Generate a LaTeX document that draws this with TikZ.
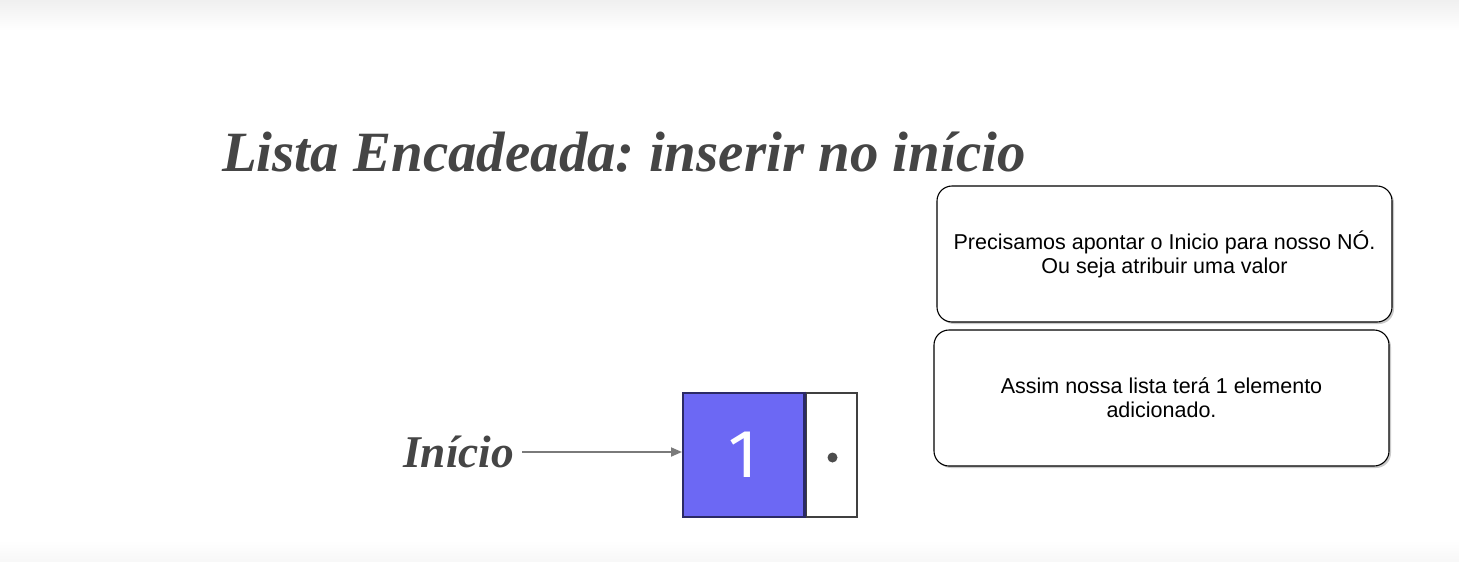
\documentclass[tikz,border=0pt]{standalone}
\usepackage{fontspec}
\setmainfont{Liberation Serif}
\newfontfamily\arialfont{Liberation Sans}
\newfontfamily\numfont{Fira Sans}
\usetikzlibrary{arrows.meta,shadows}
\frenchspacing
\definecolor{titlegray}{HTML}{454545}
\definecolor{nodeblue}{HTML}{6C68F4}
\definecolor{navy}{HTML}{2B2A66}
\definecolor{arrowgray}{HTML}{7A7A7A}
\tikzset{
  titletext/.style={text=titlegray, font=\bfseries\itshape, inner sep=0pt, anchor=west},
  notebox/.style={draw=black, line width=1.1pt, rounded corners=15pt, fill=white,
    drop shadow={shadow xshift=2pt, shadow yshift=-2pt, opacity=0.35, fill=black!60},
    minimum width=455pt, minimum height=136pt, align=center,
    font=\arialfont\fontsize{21.5}{24}\selectfont},
}
\begin{document}
\begin{tikzpicture}[x=1pt,y=-1pt]
\useasboundingbox (0,0) rectangle (1459,562);
\shade[top color=black!6, bottom color=white] (0,0) rectangle (1459,30);
\shade[top color=white, bottom color=black!3] (0,540) rectangle (1459,562);
% title
\node[titletext] (title) at (222,152) {\resizebox{803pt}{!}{Lista Encadeada: inserir no início}};
% inicio label
\node[titletext] (inicio) at (403,452) {\resizebox{111pt}{!}{Início}};
% list node
\node[draw=navy, line width=2pt, fill=nodeblue, minimum width=121pt, minimum height=124pt, inner sep=0pt] (val) at (743.5,454.5) {};
\node[text=white, font=\numfont\fontsize{68}{68}\selectfont, inner sep=0pt] (num) at (val.center) {1};
\node[draw=black!75, line width=2pt, fill=white, minimum width=51pt, minimum height=124pt, inner sep=0pt, anchor=west] (ptr) at (val.east) {};
\fill[black!70] (ptr.center) ++(1,3) circle (5);
\draw[navy, line width=2pt] (val.north east) -- (val.south east);
% arrow
\path (inicio.east) ++(8,0) coordinate (a0);
\draw[arrowgray, line width=1.8pt, -{Triangle[length=11pt,width=9pt]}] (a0) -- (a0 -| val.west);
% notes
\node[notebox] (note1) at (1164.5,254) {Precisamos apontar o Inicio para nosso NÓ.\\Ou seja atribuir uma valor};
\node[notebox] (note2) at (1161.5,398) {Assim nossa lista terá 1 elemento\\adicionado.};
\end{tikzpicture}
\end{document}
